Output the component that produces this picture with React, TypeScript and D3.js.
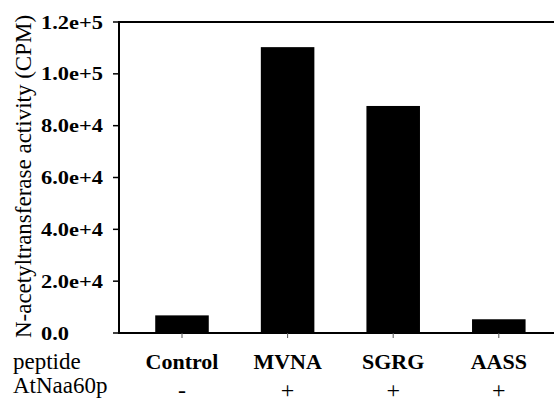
import React from "react";
import { scaleLinear, scaleBand } from "d3";

const categories = ["Control", "MVNA", "SGRG", "AASS"];
const values = [6800, 110300, 87600, 5300];
const enzymeSigns = ["-", "+", "+", "+"];
const yTicks = [0, 20000, 40000, 60000, 80000, 100000, 120000];
const yTickLabels = ["0.0", "2.0e+4", "4.0e+4", "6.0e+4", "8.0e+4", "1.0e+5", "1.2e+5"];
const yTitle = "N-acetyltransferase activity (CPM)";
const rowLabels = ["peptide", "AtNaa60p"];

const W = 554;
const H = 403;
const axisX = 119;
const topY = 22;
const bottomY = 333;

export default function App() {
  const y = scaleLinear().domain([0, 120000]).range([bottomY, topY]);
  const x = scaleBand<string>()
    .domain(categories)
    .range([129.2, 551.6])
    .paddingInner(0.493)
    .paddingOuter(0.2465);

  return (
    <svg width={W} height={H} style={{ position: "absolute", left: 0, top: 0 }}>
      <text x={13} y={369} fontSize={23} style={{ fontFamily: `"Liberation Serif"` }}>
        {rowLabels[0]}
      </text>
      <text x={13} y={393} fontSize={23} style={{ fontFamily: `"Liberation Serif"` }}>
        {rowLabels[1]}
      </text>
      <text
        transform={`translate(31,${(13 + 340) / 2}) rotate(-90)`}
        textAnchor="middle"
        fontSize={23}
        style={{ fontFamily: `"Liberation Serif"` }}
      >
        {yTitle}
      </text>
      {categories.map((c, i) => (
        <rect
          key={c}
          x={x(c)!}
          y={y(values[i])}
          width={x.bandwidth()}
          height={bottomY - y(values[i])}
          fill="#000"
        />
      ))}
      <line x1={axisX} x2={W} y1={topY} y2={topY} stroke="#000" strokeWidth={2} />
      <line x1={axisX} x2={W} y1={bottomY} y2={bottomY} stroke="#000" strokeWidth={2} />
      <line x1={axisX} x2={axisX} y1={topY - 1} y2={bottomY + 1} stroke="#000" strokeWidth={2} />
      {yTicks.map((t, i) => (
        <g key={t}>
          <line x1={113} x2={axisX} y1={y(t)} y2={y(t)} stroke="#000" strokeWidth={1.5} />
          <text
            transform={`translate(41,${y(t) + 6.5}) scale(1.18,1)`}
            fontSize={19}
            fontWeight={700}
            style={{ fontFamily: `"Liberation Serif"` }}
          >
            {yTickLabels[i]}
          </text>
        </g>
      ))}
      {categories.map((c, i) => {
        const cx = x(c)! + x.bandwidth() / 2;
        return (
          <g key={c}>
            <line x1={cx} x2={cx} y1={bottomY} y2={bottomY + 5} stroke="#555" strokeWidth={1} />
            <text x={cx} y={369} textAnchor="middle" fontSize={22} fontWeight={700} style={{ fontFamily: `"Liberation Serif"` }}>
              {c}
            </text>
            <text x={cx} y={397.5} textAnchor="middle" fontSize={24} style={{ fontFamily: `"Liberation Serif"` }}>
              {enzymeSigns[i]}
            </text>
          </g>
        );
      })}
    </svg>
  );
}
